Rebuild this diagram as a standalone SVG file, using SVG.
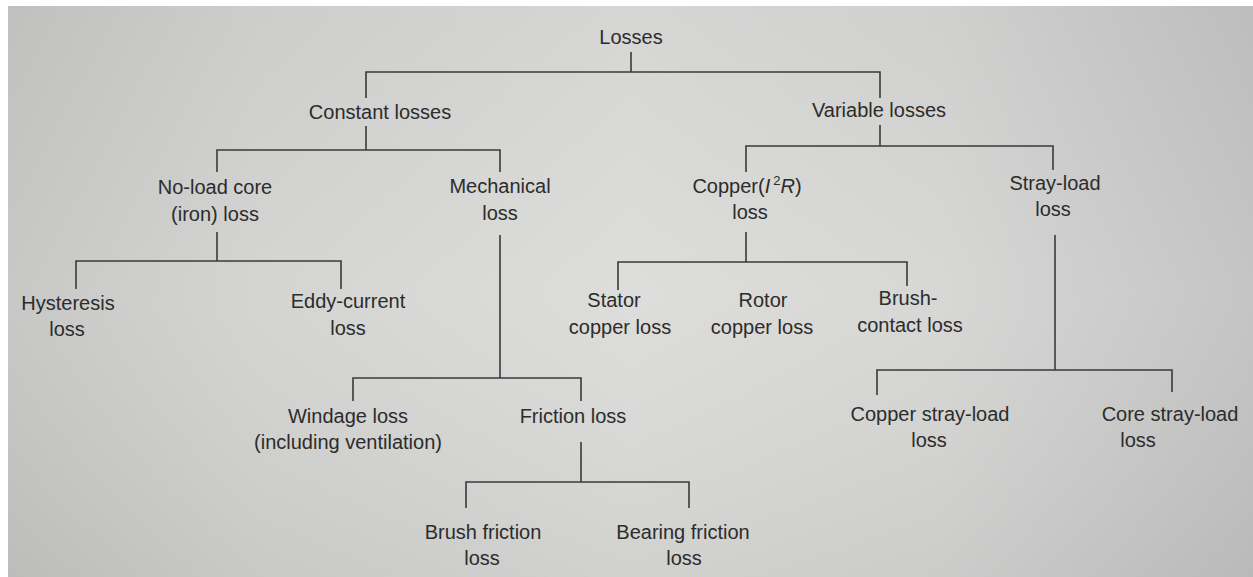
<svg xmlns="http://www.w3.org/2000/svg" width="1253" height="577" viewBox="0 0 1253 577">
<defs>
<linearGradient id="bg" x1="0" y1="0" x2="1" y2="0">
<stop offset="0" stop-color="#c6c6c4"/>
<stop offset="0.2" stop-color="#d3d3d1"/>
<stop offset="0.5" stop-color="#dcdcda"/>
<stop offset="0.75" stop-color="#d6d6d5"/>
<stop offset="1" stop-color="#c3c3c3"/>
</linearGradient>
<linearGradient id="bgv" x1="0" y1="0" x2="0" y2="1">
<stop offset="0" stop-color="#000" stop-opacity="0.03"/>
<stop offset="0.5" stop-color="#fff" stop-opacity="0.03"/>
<stop offset="1" stop-color="#000" stop-opacity="0.05"/>
</linearGradient>
<style>
.t{font-family:"Liberation Sans",Arial,Helvetica,sans-serif;font-size:20px;fill:#2c2c2c;text-anchor:middle}
.c{fill:none;stroke:#3a3a3a;stroke-width:1.6}
</style>
</defs>
<rect width="1253" height="577" fill="#ffffff"/>
<rect x="8" y="6" width="1245" height="571" fill="url(#bg)"/>
<rect x="8" y="6" width="1245" height="571" fill="url(#bgv)"/>

<g id="connectors" class="c">
<path d="M631 52V72M366 98V72H880V98"/>
<path d="M366 126V150M217 172V150H500V172"/>
<path d="M880 125V146M746 172V146H1053V170"/>
<path d="M217 232V261M76 289V261H341V289"/>
<path d="M500 235V378M353 401V378H581V401"/>
<path d="M581 442V482M466 508V482H689V508"/>
<path d="M746 232V262M618 290V262H907V286"/>
<path d="M1055 235V370M877 395V370H1172V392"/>
</g>

<g id="losses"><text class="t" x="631" y="44">Losses</text></g>
<g id="constant"><text class="t" x="380" y="119">Constant losses</text></g>
<g id="variable"><text class="t" x="879" y="117">Variable losses</text></g>
<g id="noload"><text class="t" x="215" y="194">No-load core</text><text class="t" x="215" y="221">(iron) loss</text></g>
<g id="mechanical"><text class="t" x="500" y="193">Mechanical</text><text class="t" x="500" y="220">loss</text></g>
<g id="copper"><text class="t" x="747" y="193">Copper(<tspan font-style="italic">I</tspan><tspan dx="3" font-size="13" dy="-8">2</tspan><tspan font-style="italic" dy="8">R</tspan>)</text><text class="t" x="750" y="219">loss</text></g>
<g id="stray"><text class="t" x="1055" y="190">Stray-load</text><text class="t" x="1053" y="216">loss</text></g>
<g id="hysteresis"><text class="t" x="68" y="310">Hysteresis</text><text class="t" x="67" y="336">loss</text></g>
<g id="eddy"><text class="t" x="348" y="308">Eddy-current</text><text class="t" x="348" y="335">loss</text></g>
<g id="stator"><text class="t" x="614" y="307">Stator</text><text class="t" x="620" y="334">copper loss</text></g>
<g id="rotor"><text class="t" x="763" y="307">Rotor</text><text class="t" x="762" y="334">copper loss</text></g>
<g id="brushcontact"><text class="t" x="908" y="305">Brush-</text><text class="t" x="910" y="332">contact loss</text></g>
<g id="windage"><text class="t" x="348" y="423">Windage loss</text><text class="t" x="348" y="449">(including ventilation)</text></g>
<g id="friction"><text class="t" x="573" y="423">Friction loss</text></g>
<g id="copperstray"><text class="t" x="930" y="421">Copper stray-load</text><text class="t" x="929" y="447">loss</text></g>
<g id="corestray"><text class="t" x="1170" y="421">Core stray-load</text><text class="t" x="1138" y="447">loss</text></g>
<g id="brushfriction"><text class="t" x="483" y="539">Brush friction</text><text class="t" x="482" y="565">loss</text></g>
<g id="bearing"><text class="t" x="683" y="539">Bearing friction</text><text class="t" x="684" y="565">loss</text></g>
</svg>
